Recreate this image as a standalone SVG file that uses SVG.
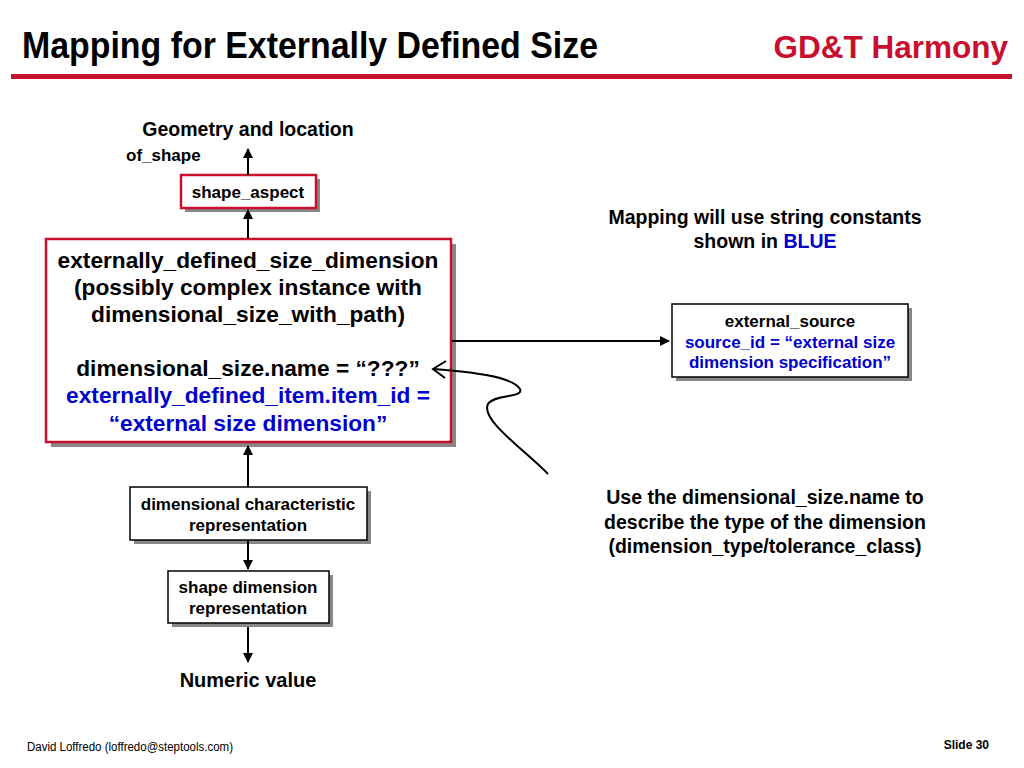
<svg xmlns="http://www.w3.org/2000/svg" width="1024" height="768" viewBox="0 0 1024 768">
<defs>
<style>
text{font-family:"Liberation Sans",Arial,sans-serif;font-weight:bold;fill:#000}
.blue{fill:#0000CC}
.red{fill:#C8102E}
.shadow{fill:#888}
.box{fill:#fff;stroke:#000;stroke-width:1.5}
.rbox{fill:#fff;stroke:#C8102E;stroke-width:2.5}
.ln{stroke:#000;stroke-width:2;fill:none}
</style>
<marker id="ah" viewBox="0 0 10 10" refX="9" refY="5" markerWidth="5" markerHeight="5" orient="auto" markerUnits="strokeWidth">
<path d="M0,0 L10,5 L0,10 z" fill="#000"/>
</marker>
</defs>
<rect width="1024" height="768" fill="#fff"/>
<text x="22" y="58" font-size="36" textLength="576" lengthAdjust="spacingAndGlyphs">Mapping for Externally Defined Size</text>
<text x="1008" y="58" font-size="31.5" text-anchor="end" class="red">GD&amp;T Harmony</text>
<rect x="11" y="74" width="1001" height="5" fill="#C8102E"/>

<g id="labels">
<text x="248" y="136" font-size="19.5" text-anchor="middle">Geometry and location</text>
<text x="126" y="161" font-size="17">of_shape</text>
<text x="248" y="687" font-size="20" text-anchor="middle">Numeric value</text>
<text x="765" y="224" font-size="19.5" text-anchor="middle">Mapping will use string constants</text>
<text x="765" y="248" font-size="19.5" text-anchor="middle">shown in <tspan class="blue">BLUE</tspan></text>
<text x="765" y="504" font-size="19.5" text-anchor="middle">Use the dimensional_size.name to</text>
<text x="765" y="529" font-size="19.5" text-anchor="middle">describe the type of the dimension</text>
<text x="765" y="553" font-size="19.5" text-anchor="middle">(dimension_type/tolerance_class)</text>
</g>

<g id="shape_aspect">
<rect class="shadow" x="185" y="179" width="135" height="33"/>
<rect class="rbox" x="181" y="175" width="135" height="33"/>
<text x="248" y="198" font-size="17" text-anchor="middle">shape_aspect</text>
</g>

<g id="externally_defined_size_dimension">
<rect class="shadow" x="51" y="244" width="405" height="203"/>
<rect class="rbox" x="46" y="239" width="405" height="203"/>
<text x="248" y="268" font-size="22.7" text-anchor="middle">externally_defined_size_dimension</text>
<text x="248" y="295" font-size="22.7" text-anchor="middle">(possibly complex instance with</text>
<text x="248" y="322" font-size="22.7" text-anchor="middle">dimensional_size_with_path)</text>
<text x="248" y="376" font-size="22.7" text-anchor="middle">dimensional_size.name = “???”</text>
<text x="248" y="403" font-size="22.7" text-anchor="middle" class="blue">externally_defined_item.item_id =</text>
<text x="248" y="431" font-size="22.7" text-anchor="middle" class="blue">“external size dimension”</text>
</g>

<g id="external_source">
<rect class="shadow" x="676" y="308" width="236" height="73"/>
<rect class="box" x="672" y="304" width="236" height="73"/>
<text x="790" y="327" font-size="17" text-anchor="middle">external_source</text>
<text x="790" y="348" font-size="17" text-anchor="middle" class="blue">source_id = “external size</text>
<text x="790" y="368" font-size="17" text-anchor="middle" class="blue"> dimension specification”</text>
</g>

<g id="dimensional_characteristic_representation">
<rect class="shadow" x="134" y="491" width="237" height="53"/>
<rect class="box" x="130" y="487" width="237" height="53"/>
<text x="248" y="510" font-size="17" text-anchor="middle">dimensional characteristic</text>
<text x="248" y="531" font-size="17" text-anchor="middle">representation</text>
</g>

<g id="shape_dimension_representation">
<rect class="shadow" x="172" y="575" width="161" height="52"/>
<rect class="box" x="168" y="571" width="161" height="52"/>
<text x="248" y="593" font-size="17" text-anchor="middle">shape dimension</text>
<text x="248" y="614" font-size="17" text-anchor="middle">representation</text>
</g>

<g id="connectors">
<line class="ln" x1="248" y1="175" x2="248" y2="149" marker-end="url(#ah)"/>
<line class="ln" x1="248" y1="238" x2="248" y2="210" marker-end="url(#ah)"/>
<line class="ln" x1="452" y1="341" x2="669" y2="341" marker-end="url(#ah)"/>
<line class="ln" x1="248" y1="487" x2="248" y2="446" marker-end="url(#ah)"/>
<line class="ln" x1="248" y1="540" x2="248" y2="569" marker-end="url(#ah)"/>
<line class="ln" x1="248" y1="627" x2="248" y2="662" marker-end="url(#ah)"/>
<path class="ln" d="M548,474 C525,450 480,420 488,404 C494,394 524,398 520,389 C512,376 470,372 434,369"/>
<path class="ln" d="M446,361 L433,369 L445,378"/>
</g>

<text x="27" y="751" font-size="12" style="font-weight:normal" textLength="206" lengthAdjust="spacingAndGlyphs">David Loffredo (loffredo@steptools.com)</text>
<text x="989" y="749" font-size="12" text-anchor="end">Slide 30</text>
</svg>
